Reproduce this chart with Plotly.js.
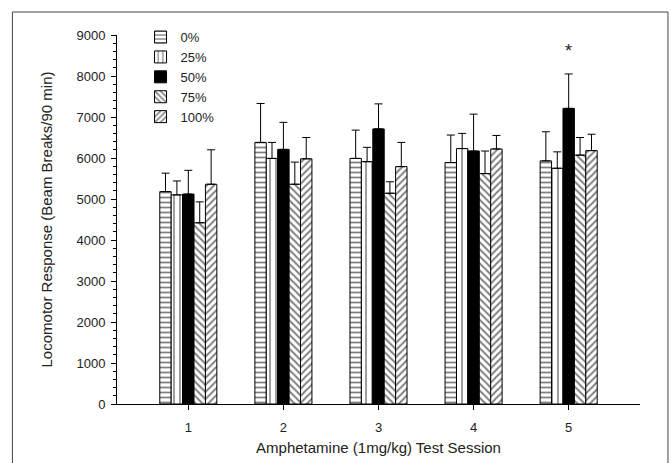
<!DOCTYPE html>
<html>
<head>
<meta charset="utf-8">
<script src="https://cdn.plot.ly/plotly-3.0.1.min.js"></script>
<style>html,body{margin:0;padding:0;background:#fff;}#chart{width:671px;height:463px;}</style>
</head>
<body>
<div id="chart"></div>
<script>
const sessions = [1, 2, 3, 4, 5];
const seriesNames = ['0%', '25%', '50%', '75%', '100%'];
const mean0 = [5180, 6380, 5990, 5890, 5930];
const err0 = [450, 950, 690, 670, 710];
const mean25 = [5100, 5990, 5910, 6230, 5750];
const err25 = [340, 390, 350, 370, 400];
const mean50 = [5120, 6210, 6710, 6170, 7210];
const err50 = [580, 660, 610, 900, 840];
const mean75 = [4420, 5360, 5140, 5620, 6070];
const err75 = [510, 540, 280, 550, 430];
const mean100 = [5360, 5980, 5790, 6220, 6180];
const err100 = [840, 520, 590, 330, 400];
const sigSession = 5;
const sigY = 8600;

const means = [mean0, mean25, mean50, mean75, mean100];
const errs = [err0, err25, err50, err75, err100];
const patterns = [
  {shape: '-', size: 5, solidity: 0.35},
  {shape: '|', size: 6, solidity: 0.25},
  {shape: '', size: 6, solidity: 0.3},
  {shape: '\\', size: 5, solidity: 0.4},
  {shape: '/', size: 5, solidity: 0.4}
];
const fills = ['white', 'white', 'black', 'white', 'white'];

const traces = seriesNames.map((n, i) => ({
  type: 'bar',
  name: n,
  x: sessions,
  y: means[i],
  marker: {
    color: fills[i],
    line: {color: 'black', width: 1},
    pattern: patterns[i].shape ? {shape: patterns[i].shape, fgcolor: 'black', bgcolor: 'white', size: patterns[i].size, solidity: patterns[i].solidity, fillmode: 'overlay'} : undefined
  },
  error_y: {type: 'data', symmetric: false, array: errs[i], arrayminus: errs[i].map(() => 0), color: 'black', thickness: 1, width: 4}
}));

const fontFam = 'Arial, "Liberation Sans", sans-serif';
const layout = {
  width: 671, height: 463,
  margin: {l: 117, r: 31, t: 35, b: 59},
  paper_bgcolor: 'white', plot_bgcolor: 'white',
  font: {family: fontFam, size: 13, color: '#222'},
  barmode: 'group', bargap: 0.4, bargroupgap: 0,
  showlegend: true,
  legend: {x: 0.045, y: 1.035, xanchor: 'left', yanchor: 'top', bgcolor: 'rgba(0,0,0,0)', font: {size: 13, color: '#222'}, tracegroupgap: 0},
  xaxis: {
    range: [0.25, 5.75], tickvals: sessions, ticktext: sessions.map(String),
    showline: true, linecolor: 'black', linewidth: 1, ticks: 'outside', ticklen: 5, tickcolor: 'black',
    ticklabelstandoff: 6,
    showgrid: false, zeroline: false, mirror: false,
    tickfont: {size: 13},
    title: {text: 'Amphetamine (1mg/kg) Test Session', font: {size: 15, color: '#222'}, standoff: 8}
  },
  yaxis: {
    range: [0, 9000], dtick: 1000, tick0: 0,
    showline: true, linecolor: 'black', linewidth: 1, ticks: 'outside', ticklen: 5, tickcolor: 'black',
    ticklabelstandoff: 3,
    minor: {dtick: 200, ticks: 'outside', ticklen: 3, tickcolor: 'black', showgrid: false},
    showgrid: false, zeroline: false, mirror: false,
    tickfont: {size: 13},
    title: {text: 'Locomotor Response (Beam Breaks/90 min)', font: {size: 15, color: '#222'}, standoff: 20}
  },
  annotations: [{x: sigSession, y: sigY, xref: 'x', yref: 'y', text: '*', showarrow: false, font: {size: 18, color: '#222'}}],
  shapes: [{type: 'rect', xref: 'paper', yref: 'paper', x0: -0.2, x1: 1.0535, y0: -0.2, y1: 1.0623, line: {color: '#444', width: 1}, fillcolor: 'rgba(0,0,0,0)', layer: 'below'}]
};

Plotly.newPlot('chart', traces, layout, {displayModeBar: false, staticPlot: true});
</script>
</body>
</html>
